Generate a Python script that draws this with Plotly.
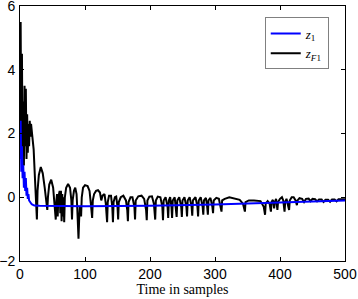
import plotly.graph_objects as go

# z_F1 (black) samples and values
zf_x = [0,1,2,3,4,5,6,7,8,9,10,11,12,13,14,15,16,17,19,21,23,25,26,27,29,32,35,38,40,42,43,45,48,51,53,55,56,57,58,59,61,62,63,64,65,66,67,68,69,71,74,77,79,80,81,83,85,87,88,90,91,92,94,95,97,100,104,107,109,111,112,114,117,120,123,125,127,130,132,134,135,137,140,142,143,144,146,148,150,151,152,155,159,163,165,166,167,170,173,176,177,178,182,187,191,194,195,196,199,203,206,208,209,212,216,219,220,221,224,227,228,229,231,233,234,235,238,240,241,242,245,248,249,250,253,256,257,258,261,264,265,266,270,273,274,275,278,281,282,283,286,288,289,290,293,296,297,298,302,306,309,310,311,315,322,330,338,343,346,347,352,360,370,375,377,378,381,384,386,387,389,391,392,394,396,397,400,403,405,407,408,410,413,414,415,418,421,424,426,427,430,434,437,440,444,447,450,454,457,460,464,467,470,474,477,480,484,487,490,495,500]
zf_y = [1.8,5.5,1.2,4.5,0.9,3.0,1.0,3.5,1.6,3.4,1.2,2.6,1.4,2.3,1.6,2.4,1.9,2.3,1.9,1.5,0.6,-0.1,-0.7,0.2,0.7,0.95,0.75,0.3,-0.1,-0.4,0.0,0.4,0.55,0.3,-0.2,-0.7,-0.1,0.1,-0.6,0.0,0.2,-0.5,0.2,-0.75,0.1,-0.6,0.0,-0.78,0.0,0.3,0.42,0.3,-0.1,-0.7,-0.1,0.2,0.3,0.1,-0.3,-1.3,-0.7,-0.3,-0.6,0.0,0.3,0.38,0.35,0.2,-0.2,-0.65,-0.1,0.1,0.2,0.22,0.15,-0.1,0.05,0.1,-0.2,-0.78,-0.15,0.05,0.05,-0.3,-0.78,-0.15,0.0,0.02,-0.3,-0.7,-0.15,0.0,0.05,-0.1,-0.4,-0.75,-0.15,0.0,0.0,-0.3,-0.7,-0.1,0.03,0.05,-0.05,-0.4,-0.72,-0.1,0.02,0.03,-0.2,-0.7,-0.1,0.02,0.0,-0.3,-0.72,-0.1,0.0,-0.3,-0.65,-0.1,0.0,-0.3,-0.65,-0.1,0.0,-0.3,-0.62,-0.1,0.0,-0.3,-0.62,-0.1,0.0,-0.3,-0.6,-0.1,0.0,-0.3,-0.58,-0.1,0.0,-0.3,-0.6,-0.1,0.0,-0.3,-0.55,-0.1,-0.02,-0.3,-0.55,-0.1,-0.02,-0.3,-0.5,-0.1,-0.02,-0.05,-0.3,-0.45,-0.1,-0.05,0.0,-0.03,-0.08,-0.2,-0.45,-0.15,-0.1,-0.1,-0.12,-0.3,-0.55,-0.2,-0.12,-0.2,-0.45,-0.15,-0.08,-0.35,-0.15,-0.05,-0.4,-0.15,-0.05,0.0,-0.1,-0.45,-0.15,-0.05,-0.3,-0.4,-0.1,0.0,0.0,-0.1,-0.25,-0.1,-0.03,-0.05,-0.15,-0.05,-0.04,-0.12,-0.05,-0.06,-0.13,-0.07,-0.07,-0.15,-0.08,-0.08,-0.14,-0.07,-0.07,-0.13,-0.06,-0.06,-0.06]

# z_1 (blue)
z1_x = [0,1,2,3,4,5,6,7,8,9,10,11,12,13,14,16,18,22,30,100,200,300,400,500]
z1_y = [1.2,2.4,0.8,1.6,0.6,1.0,0.3,0.8,0.2,0.6,0.05,0.3,-0.05,0.1,-0.1,-0.15,-0.22,-0.26,-0.27,-0.28,-0.27,-0.23,-0.17,-0.1]

x_ticks = [0, 100, 200, 300, 400, 500]
y_ticks = [-2, 0, 2, 4, 6]

fig = go.Figure()
fig.add_trace(go.Scatter(x=zf_x, y=zf_y, mode="lines", name="<i>z</i><sub><i>F</i>1</sub>",
                         legendrank=2, line=dict(color="#000000", width=2)))
fig.add_trace(go.Scatter(x=z1_x, y=z1_y, mode="lines", name="<i>z</i><sub>1</sub>",
                         legendrank=1, line=dict(color="#0000ff", width=2)))

axis_common = dict(showline=True, linecolor="black", linewidth=1, mirror="ticks",
                   ticks="inside", ticklen=4, tickcolor="black", showgrid=False,
                   zeroline=False, automargin=False, ticklabeloverflow="allow",
                   tickfont=dict(family="Liberation Sans, Arial", size=14, color="black"))

fig.update_layout(
    width=358, height=299,
    margin=dict(l=20, r=13, t=6, b=38),
    plot_bgcolor="white", paper_bgcolor="white",
    showlegend=True,
    legend=dict(x=0.95, y=0.955, xanchor="right", yanchor="top",
                bordercolor="#808080", borderwidth=1, bgcolor="white",
                font=dict(family="Liberation Serif, Times New Roman", size=13, color="black"),
                tracegroupgap=0, itemwidth=30),
    xaxis=dict(range=[0, 500], tickvals=x_ticks, ticklabelstandoff=0,
               title=dict(text="Time in samples", standoff=0,
                          font=dict(family="Liberation Serif, Times New Roman", size=14, color="black")),
               **axis_common),
    yaxis=dict(range=[-2, 6], tickvals=y_ticks, ticklabelstandoff=1, **axis_common),
)

fig.write_html("out.html", config={"displayModeBar": False},
               post_script="document.body.style.margin='0';document.body.style.overflow='hidden';")
